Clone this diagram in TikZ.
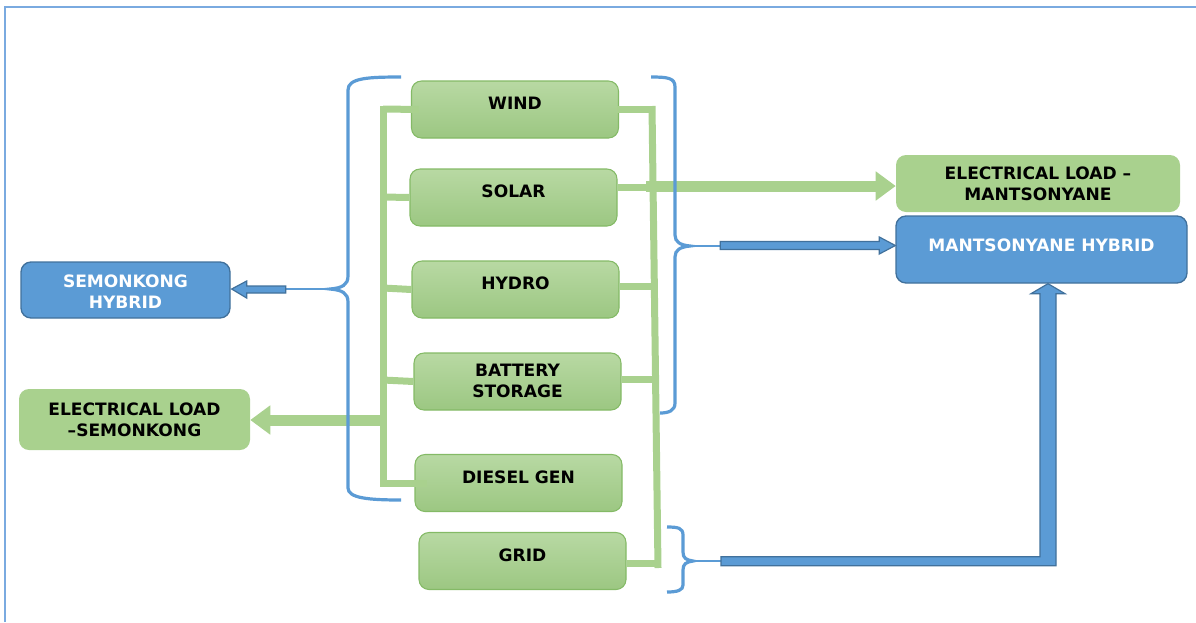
\documentclass[tikz,border=0pt]{standalone}
\usepackage{fontspec}
\setmainfont{DejaVu Sans}
\usetikzlibrary{calc,arrows.meta}
\definecolor{gfill}{HTML}{A9D18E}
\definecolor{gtop}{HTML}{B8D9A3}
\definecolor{gbot}{HTML}{9CC782}
\definecolor{gedge}{HTML}{84BA66}
\definecolor{bfill}{HTML}{5B9BD5}
\definecolor{bedge}{HTML}{41719C}
\definecolor{framec}{HTML}{7AAAE0}
\tikzset{
  gbox/.style={rectangle, rounded corners=7.5pt, top color=gtop, bottom color=gbot,
    draw=gedge, line width=0.8pt, minimum width=155.25pt, minimum height=42.75pt, inner sep=0pt},
  lbox/.style={rectangle, rounded corners=7.5pt, fill=gfill, draw=none, inner sep=0pt},
  bbox/.style={rectangle, rounded corners=7.5pt, fill=bfill, draw=bedge, line width=1pt, inner sep=0pt},
  lbl/.style={align=center, text=black, font=\bfseries\fontsize{12.8}{15.8}\selectfont, inner sep=0pt},
  wlbl/.style={lbl, text=white},
  bus/.style={draw=gfill, line width=5.25pt},
  garrow/.style={draw=gfill, line width=8.25pt, -{Triangle[length=15pt,width=21pt]}},
  brace/.style={draw=bfill, line width=2.4pt},
  thinb/.style={draw=bfill, line width=1.6pt},
  barrow/.style={fill=bfill, draw=bedge, line width=0.9pt, line join=miter},
}
\begin{document}
\begin{tikzpicture}[x=0.75pt,y=-0.75pt]
\useasboundingbox (0,0) rectangle (1196,622);
% frame
\draw[framec, line width=1.6pt] (5,622) -- (5,7) -- (1196,7);

% source boxes
\node[gbox] (wind)    at (515,109.5) {};
\node[gbox] (solar)   at (513.5,197.5) {};
\node[gbox] (hydro)   at (515.5,289.5) {};
\node[gbox] (battery) at (517.5,381.5) {};
\node[gbox] (diesel)  at (518.5,483) {};
\node[gbox] (grid)    at (522.5,561) {};
\node[lbl] (tw) at (515,103) {WIND};
\node[lbl] (ts) at (513.5,191) {SOLAR};
\node[lbl] (th) at (515.5,283) {HYDRO};
\node[lbl] (tb) at (517.5,381) {BATTERY\\STORAGE};
\node[lbl] (td) at (518.5,477) {DIESEL GEN};
\node[lbl] (tg) at (522.5,555) {GRID};

% destination boxes
\node[lbox, minimum width=213pt, minimum height=42.75pt] (elm) at (1038,183.5) {};
\node[lbl] (telm) at (1038,183.5) {ELECTRICAL LOAD –\\MANTSONYANE};
\node[bbox, minimum width=218.25pt, minimum height=50.25pt] (mh) at (1041.5,249.5) {};
\node[wlbl] (tmh) at (1041.5,245) {MANTSONYANE HYBRID};
\node[bbox, minimum width=156.75pt, minimum height=42pt] (sh) at (125.5,290) {};
\node[wlbl] (tsh) at (125.5,291.5) {SEMONKONG\\HYBRID};
\node[lbox, minimum width=173.25pt, minimum height=45.75pt] (els) at (134.5,419.5) {};
\node[lbl] (tels) at (134.5,419.5) {ELECTRICAL LOAD\\–SEMONKONG};

% left green bus
\coordinate (lt) at (383,106);
\coordinate (lb) at (383,487);
\draw[bus] (lt) -- (lb);
\draw[bus] (383,109) -- ($(wind.west)+(8,0)$);
\draw[bus] (383,197) -- (solar.west);
\draw[bus] (383,288) -- (hydro.west);
\draw[bus] (383,380) -- (battery.west);
\draw[bus] (383,483) -- ($(diesel.west)+(13,0)$);
\coordinate (lload) at (385,420);
\draw[garrow] (lload) -- (lload -| els.east);

% right green bus
\coordinate (rt) at (652,106);
\coordinate (rb) at (658,568);
\draw[bus] (rt) -- (rb);
\draw[bus] ($(wind.east)+(-2,-0.5)$) -- (652,109);
\draw[bus] (solar.east |- 0,187) -- (650,187);
\draw[bus] (hydro.east |- 0,286) -- (654,286);
\draw[bus] (battery.east |- 0,379) -- (655,379);
\draw[bus] (grid.east |- 0,563) -- (658,563);
\coordinate (rload) at (646,186);
\draw[garrow] (rload) -- (rload -| elm.west);

% left brace
\draw[brace] (401,77) .. controls (368,77) and (348,78) .. (348,90) -- (348,276)
  .. controls (348,285) and (342,288) .. (330,289)
  .. controls (342,290) and (348,293) .. (348,302) -- (348,488)
  .. controls (348,498) and (368,500) .. (401,500);
\coordinate (lbtip) at (330,289);
\draw[thinb] (lbtip) -- (286,289);
\draw[barrow] ($(sh.east)+(1,-1)$) -- ++(15,-8) -- ++(0,5) -- ++(39,0) -- ++(0,7) -- ++(-39,0) -- ++(0,5) -- cycle;

% right top brace
\draw[brace] (651,77) .. controls (668,77) and (675,78) .. (675,87) -- (675,235)
  .. controls (675,242) and (680,245) .. (690,246)
  .. controls (680,247) and (675,250) .. (675,257) -- (675,403)
  .. controls (675,411) and (668,413) .. (660,413);
\coordinate (rbtip) at (690,246);
\draw[thinb] (rbtip) -- (722,246);
\coordinate (mtip) at ($(mh.west)+(0,-4)$);
\draw[barrow] (mtip) -- ++(-16,-8.5) -- ++(0,4.5) -- ++(-159,0) -- ++(0,8) -- ++(159,0) -- ++(0,4.5) -- cycle;

% bottom brace
\draw[brace] (667,527) .. controls (678,527) and (683,528) .. (683,535) -- (683,552)
  .. controls (683,558) and (686,560) .. (693,561)
  .. controls (686,562) and (683,564) .. (683,570) -- (683,585)
  .. controls (683,590) and (678,592) .. (667,592);
\coordinate (gbtip) at (693,561);
\draw[thinb] (gbtip) -- (722,561);
\coordinate (vtip) at ($(mh.south)+(6.5,0)$);
\draw[barrow] (vtip) -- ++(17,10) -- ++(-9,0) -- ++(0,272) -- ++(-335,0) -- ++(0,-9) -- ++(319,0)
  -- ++(0,-263) -- ++(-9,0) -- cycle;
\end{tikzpicture}
\end{document}
